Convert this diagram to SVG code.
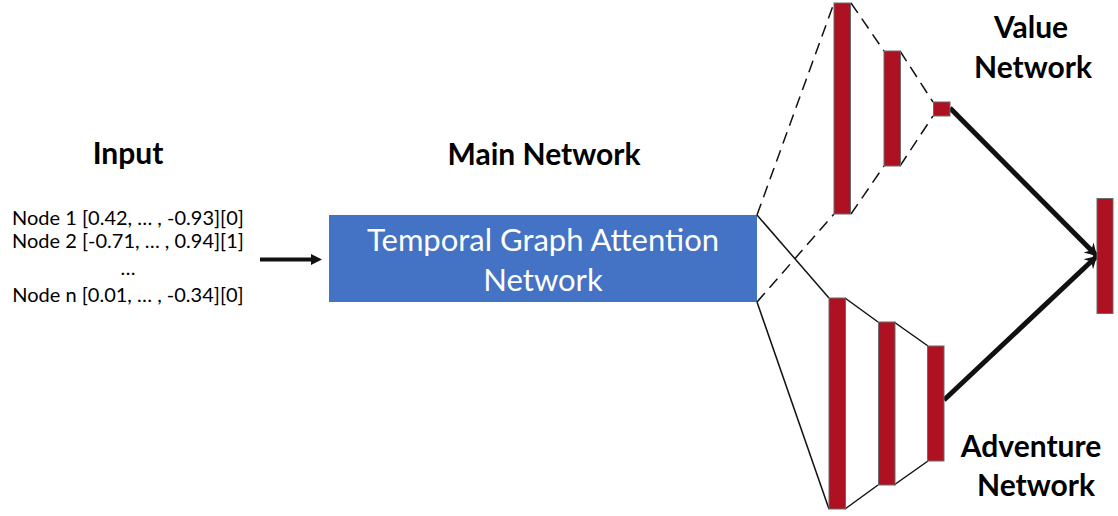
<svg xmlns="http://www.w3.org/2000/svg" width="1118" height="516" viewBox="0 0 1118 516">
<style>
.t{font-family:Lato,"Liberation Sans",sans-serif;fill:#000;text-anchor:middle}
.h{font-weight:bold;font-size:30px}
.n{font-size:20px}
.w{font-family:Lato,"Liberation Sans",sans-serif;fill:#fff;text-anchor:middle;font-size:31px}
.bar{fill:#AE1121;stroke:#6b6b6b;stroke-width:1}
.thin{stroke:#111;stroke-width:1.5;fill:none}
.dash{stroke:#111;stroke-width:1.5;fill:none;stroke-dasharray:12 7}
.thick{stroke:#111;stroke-width:5;fill:none}
</style>
<defs>
<marker id="ah" markerUnits="userSpaceOnUse" markerWidth="16" markerHeight="16" refX="12" refY="8" orient="auto" viewBox="0 0 16 16">
<path d="M0,1 L12,8 L0,15 L4,8 Z" fill="#111"/>
</marker>
</defs>
<rect width="1118" height="516" fill="#fff"/>

<g id="input">
<text class="t h" x="128" y="164">Input</text>
<text class="t n" x="128" y="225">Node 1 [0.42, … , -0.93][0]</text>
<text class="t n" x="128" y="248">Node 2 [-0.71, … , 0.94][1]</text>
<text class="t n" x="128" y="275">…</text>
<text class="t n" x="128" y="302">Node n [0.01, … , -0.34][0]</text>
</g>

<g id="main-network">
<text class="t h" x="544" y="165">Main Network</text>
<rect x="329" y="215" width="428" height="87" fill="#4472C4"/>
<text class="w" x="543" y="251">Temporal Graph Attention</text>
<text class="w" x="543" y="291">Network</text>
</g>

<g id="connectors">
<line class="thick" x1="260" y1="259.5" x2="312" y2="259.5" style="stroke-width:4"/>
<path d="M311,254 L322,259.5 L311,265 Z" fill="#111"/>
<line class="dash" x1="757" y1="215" x2="834" y2="3"/>
<line class="dash" x1="757" y1="302" x2="834" y2="214"/>
<line class="dash" x1="851" y1="3" x2="884" y2="51"/>
<line class="dash" x1="851" y1="214" x2="884" y2="166"/>
<line class="dash" x1="900" y1="51" x2="933" y2="102"/>
<line class="dash" x1="900" y1="166" x2="933" y2="116"/>
<line class="thin" x1="757" y1="215" x2="829" y2="298"/>
<line class="thin" x1="757" y1="302" x2="829" y2="509"/>
<line class="thin" x1="845" y1="298" x2="878" y2="322"/>
<line class="thin" x1="845" y1="509" x2="878" y2="485"/>
<line class="thin" x1="894" y1="322" x2="928" y2="346"/>
<line class="thin" x1="894" y1="485" x2="928" y2="461"/>
<line class="thick" x1="950" y1="108" x2="1097" y2="256" marker-end="url(#ah)"/>
<line class="thick" x1="944" y1="400" x2="1097" y2="256" marker-end="url(#ah)"/>
</g>

<g id="value-network">
<rect class="bar" x="834" y="3" width="16.5" height="211"/>
<rect class="bar" x="884" y="51" width="16.5" height="115"/>
<rect class="bar" x="933.5" y="102" width="16.5" height="14"/>
<text class="t h" x="1031" y="38">Value</text>
<text class="t h" x="1033" y="78">Network</text>
</g>

<g id="adventure-network">
<rect class="bar" x="829" y="298" width="16.5" height="211"/>
<rect class="bar" x="878.5" y="322" width="16.5" height="163"/>
<rect class="bar" x="927.5" y="346" width="16.5" height="115"/>
<text class="t h" x="1031" y="457">Adventure</text>
<text class="t h" x="1036" y="496">Network</text>
</g>

<g id="output">
<rect class="bar" x="1097" y="198.5" width="16" height="115"/>
</g>
</svg>
